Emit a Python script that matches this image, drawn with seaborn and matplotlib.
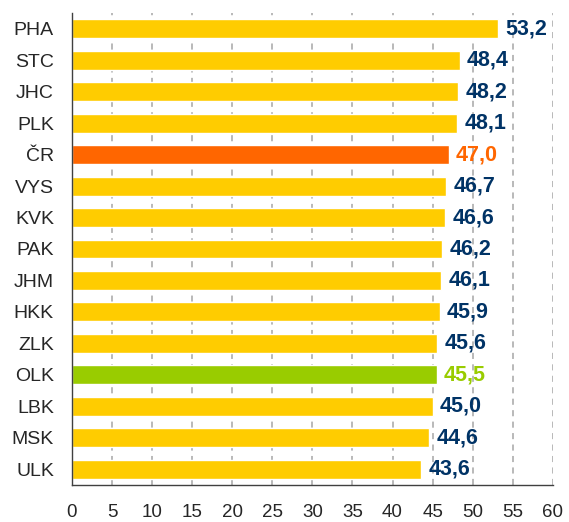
import numpy as np
import pandas as pd
import matplotlib
matplotlib.use("Agg")
import matplotlib.pyplot as plt
import seaborn as sns

regiony = ["PHA", "STC", "JHC", "PLK", "ČR", "VYS", "KVK", "PAK", "JHM",
           "HKK", "ZLK", "OLK", "LBK", "MSK", "ULK"]
hodnoty = [53.2, 48.4, 48.2, 48.1, 47.0, 46.7, 46.6, 46.2, 46.1,
           45.9, 45.6, 45.5, 45.0, 44.6, 43.6]
x_ticky = [0, 5, 10, 15, 20, 25, 30, 35, 40, 45, 50, 55, 60]

ZLUTA = "#FFCC00"
ORANZOVA = "#FF6600"
ZELENA = "#99CC00"
MODRA = "#003366"

barvy_sloupcu = {r: ZLUTA for r in regiony}
barvy_sloupcu["ČR"] = ORANZOVA
barvy_sloupcu["OLK"] = ZELENA
barvy_textu = {r: MODRA for r in regiony}
barvy_textu["ČR"] = ORANZOVA
barvy_textu["OLK"] = ZELENA

df = pd.DataFrame({"region": regiony, "hodnota": hodnoty})

sns.set_style("white")
plt.rcParams["font.family"] = ["Liberation Sans", "DejaVu Sans"]

fig = plt.figure(figsize=(5.69, 5.22), dpi=100)
ax = fig.add_axes([0.1265, 0.071, 0.845, 0.904])

sns.barplot(data=df, x="hodnota", y="region", hue="region", palette=barvy_sloupcu,
            order=regiony, legend=False, width=0.6, saturation=1, ax=ax, zorder=2)

for i, (r, v) in enumerate(zip(regiony, hodnoty)):
    ax.annotate(f"{v:.1f}".replace(".", ","), xy=(v, i), xytext=(5, 0),
                textcoords="offset points", va="center", ha="left",
                fontsize=15.5, fontweight="bold", color=barvy_textu[r])

ax.set_xlim(0, 60)
ax.set_ylim(len(regiony) - 0.5, -0.5)
ax.set_xticks(x_ticky)
ax.set_xticklabels([str(t) for t in x_ticky], fontsize=13.5)
ax.set_xlabel("")
ax.set_ylabel("")

ax.xaxis.grid(True, color="#A6A6A6", linestyle=(0, (4, 3.5)), linewidth=1.1)
ax.yaxis.grid(False)
ax.set_axisbelow(True)

ax.tick_params(axis="y", which="major", length=0, pad=13, labelsize=14)
ax.set_yticks(np.arange(-0.5, len(regiony), 1), minor=True)
ax.tick_params(axis="y", which="minor", length=4.3, width=1, color="#404040")
ax.tick_params(axis="x", which="major", length=4, width=1, color="#404040", pad=9.5)

for s in ["top", "right"]:
    ax.spines[s].set_visible(False)
for s in ["left", "bottom"]:
    ax.spines[s].set_color("#404040")
    ax.spines[s].set_linewidth(1)

fig.savefig("out.png", dpi=100)
